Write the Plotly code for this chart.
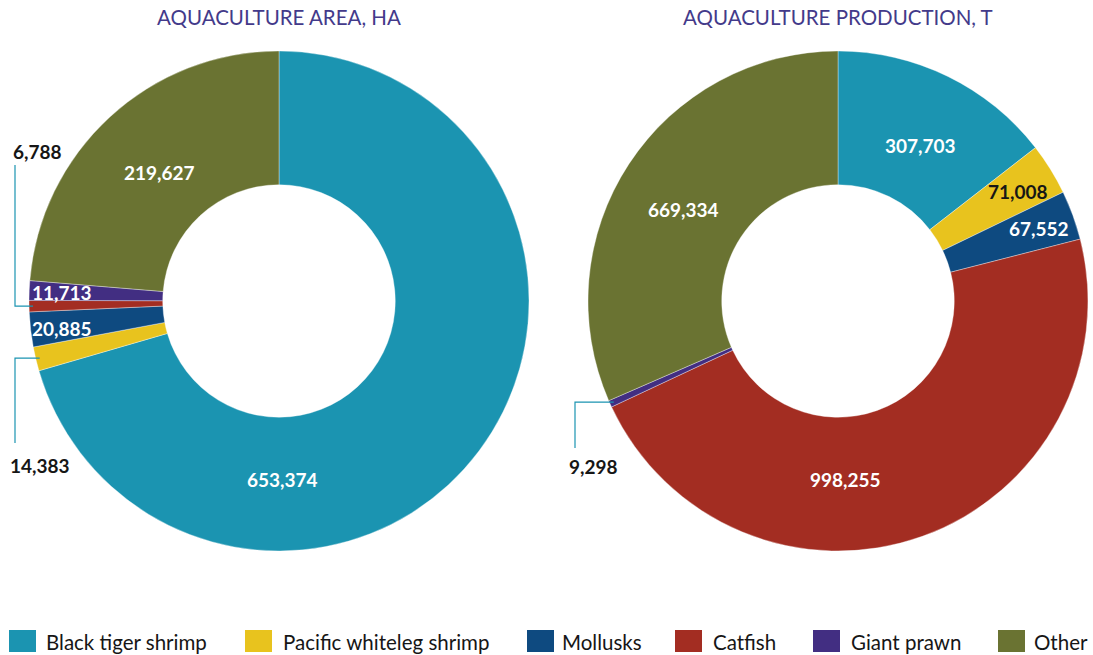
import math
import plotly.graph_objects as go

# ---- data -------------------------------------------------------------
categories = ["Black tiger shrimp", "Pacific whiteleg shrimp", "Mollusks",
              "Catfish", "Giant prawn", "Other"]
area_ha = [653374, 14383, 20885, 6788, 11713, 219627]
production_t = [307703, 71008, 67552, 998255, 9298, 669334]
chart_titles = ["AQUACULTURE AREA, HA", "AQUACULTURE PRODUCTION, T"]

# ---- styling ----------------------------------------------------------
colors = ["#1B94B1", "#E8C31E", "#0E4A80", "#A32D22", "#422E82", "#6A7332"]
W, H = 1093, 655
FONT = "Lato"
TITLE_COLOR = "#433A8A"
TEXT_DARK = "#161616"
R = 250            # outer radius, px
HOLE = 0.465
centers = [(279, 301), (838, 301)]

# in-slice label placement (px) and text colour per slice; None -> callout
inside_labels = [
    [(282, 479, "white"), None, (62, 328, "white"), None,
     (62, 292, "white"), (159, 172, "white")],
    [(920, 145, "white"), (1018, 192, TEXT_DARK), (1039, 228, "white"),
     (845, 479, "white"), None, (683, 209, "white")],
]
# callouts: (elbow x, end y, label x, label y) in px
callouts = [
    {3: (15, 165, 37, 152), 1: (15, 443, 40, 465)},
    {4: (575, 448, 593, 466)},
]


def px(x, y):
    return x / W, 1 - y / H


fig = go.Figure()
annotations = []
shapes = []

for i, (values, title) in enumerate(zip([area_ha, production_t], chart_titles)):
    cx, cy = centers[i]
    fig.add_trace(go.Pie(
        labels=categories,
        values=values,
        hole=HOLE,
        sort=False,
        direction="clockwise",
        rotation=0,
        marker=dict(colors=colors, line=dict(color="rgba(255,255,255,0.6)", width=0.6)),
        textinfo="none",
        hoverinfo="label+value+percent",
        showlegend=False,
        domain=dict(x=[(cx - R) / W, (cx + R) / W],
                    y=[1 - (cy + R) / H, 1 - (cy - R) / H]),
    ))

    # chart title
    tx, ty = px(cx, 17)
    annotations.append(dict(
        x=tx, y=ty, xref="paper", yref="paper", text=title, showarrow=False,
        xanchor="center", yanchor="middle",
        font=dict(family=FONT, size=20.5, color=TITLE_COLOR)))

    total = sum(values)
    cum = 0.0
    for k, v in enumerate(values):
        mid = (cum + v / 2) / total * 2 * math.pi
        cum += v
        label = f"{v:,}"
        spec = inside_labels[i][k]
        if spec is not None:
            lx, ly, col = spec
            ax_, ay_ = px(lx, ly)
            annotations.append(dict(
                x=ax_, y=ay_, xref="paper", yref="paper", text=f"<b>{label}</b>",
                showarrow=False, xanchor="center", yanchor="middle",
                font=dict(family=FONT, size=19, color=col)))
        else:
            ex, ey, lx, ly = callouts[i][k]
            sx = cx + (R - 4) * math.sin(mid)
            sy = cy - (R - 4) * math.cos(mid)
            p0 = px(sx, sy)
            p1 = px(ex, sy)
            p2 = px(ex, ey)
            shapes.append(dict(
                type="path", xref="paper", yref="paper",
                path=f"M {p0[0]} {p0[1]} L {p1[0]} {p1[1]} L {p2[0]} {p2[1]}",
                line=dict(color=colors[0], width=1.2)))
            ax_, ay_ = px(lx, ly)
            annotations.append(dict(
                x=ax_, y=ay_, xref="paper", yref="paper", text=f"<b>{label}</b>",
                showarrow=False, xanchor="center", yanchor="middle",
                font=dict(family=FONT, size=19, color=TEXT_DARK)))

# ---- legend row -------------------------------------------------------
legend_swatch_x = [9, 245, 527, 675, 813, 998]
legend_text_x = [44, 281, 560, 711, 849, 1032]
SW, SH, LEG_Y = 27, 22, 641
for name, col, sx, tx0 in zip(categories, colors, legend_swatch_x, legend_text_x):
    x0, y0 = px(sx, LEG_Y - SH / 2)
    x1, y1 = px(sx + SW, LEG_Y + SH / 2)
    shapes.append(dict(type="rect", xref="paper", yref="paper",
                       x0=x0, x1=x1, y0=y1, y1=y0,
                       fillcolor=col, line=dict(width=0)))
    tx, ty = px(tx0, LEG_Y + 1)
    annotations.append(dict(
        x=tx, y=ty, xref="paper", yref="paper", text=name, showarrow=False,
        xanchor="left", yanchor="middle",
        font=dict(family=FONT, size=20.5, color=TEXT_DARK)))

fig.update_layout(
    width=W, height=H,
    margin=dict(l=0, r=0, t=0, b=0),
    paper_bgcolor="white", plot_bgcolor="white",
    annotations=annotations, shapes=shapes,
    showlegend=False,
)

fig.write_html("out.html")
